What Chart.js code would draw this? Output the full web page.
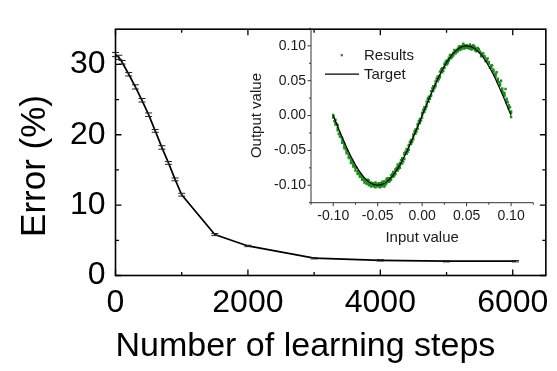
<!DOCTYPE html>
<html><head><meta charset="utf-8">
<script src="https://cdn.jsdelivr.net/npm/chart.js@4.4.0/dist/chart.umd.min.js"></script>
<style>
html,body{margin:0;padding:0;background:#fff;}
#wrap{position:relative;width:557px;height:371px;overflow:hidden;}
#main{position:absolute;left:0;top:0;}
#inset{position:absolute;left:240px;top:15px;}
</style></head><body>
<div id="wrap"><canvas id="main" width="557" height="371"></canvas><canvas id="inset" width="305" height="235"></canvas></div>
<script>
// ---- main chart data ----
const steps = [0, 50, 100, 200, 300, 400, 500, 600, 700, 800, 900, 1000, 1500, 2000, 3000, 4000, 5000, 6040];
const errorPct = [31.4, 31.0, 30.3, 28.6, 26.8, 24.9, 22.85, 20.55, 18.2, 16.0, 13.66, 11.48, 5.82, 4.2, 2.46, 2.16, 2.03, 2.03];
const errorBar = [0.3, 0.3, 0.25, 0.25, 0.3, 0.25, 0.25, 0.2, 0.25, 0.2, 0.2, 0.2, 0.15, 0.1, 0.1, 0.1, 0.1, 0.1];
const xTickLabels = [0, 2000, 4000, 6000];
const xMinorTicks = [1000, 3000, 5000];
const yTickLabels = [0, 10, 20, 30];
const yMinorTicks = [5, 15, 25];

// ---- inset data ----
const insetX = [-0.1,-0.0975,-0.095,-0.0925,-0.09,-0.0875,-0.085,-0.0825,-0.08,-0.0775,-0.075,-0.0725,-0.07,-0.0675,-0.065,-0.0625,-0.06,-0.0575,-0.055,-0.0525,-0.05,-0.0475,-0.045,-0.0425,-0.04,-0.0375,-0.035,-0.0325,-0.03,-0.0275,-0.025,-0.0225,-0.02,-0.0175,-0.015,-0.0125,-0.01,-0.0075,-0.005,-0.0025,0,0.0025,0.005,0.0075,0.01,0.0125,0.015,0.0175,0.02,0.0225,0.025,0.0275,0.03,0.0325,0.035,0.0375,0.04,0.0425,0.045,0.0475,0.05,0.0525,0.055,0.0575,0.06,0.0625,0.065,0.0675,0.07,0.0725,0.075,0.0775,0.08,0.0825,0.085,0.0875,0.09,0.0925,0.095,0.0975,0.1];
const resultsY1 = [0.001,-0.006,-0.018,-0.027,-0.033,-0.044,-0.049,-0.058,-0.063,-0.070,-0.076,-0.080,-0.086,-0.088,-0.093,-0.094,-0.097,-0.096,-0.101,-0.098,-0.102,-0.097,-0.101,-0.094,-0.093,-0.090,-0.086,-0.083,-0.077,-0.073,-0.068,-0.061,-0.056,-0.048,-0.042,-0.035,-0.027,-0.020,-0.012,-0.005,0.004,0.012,0.020,0.027,0.035,0.042,0.049,0.056,0.063,0.068,0.074,0.079,0.083,0.087,0.090,0.091,0.094,0.096,0.097,0.098,0.097,0.099,0.097,0.096,0.095,0.094,0.091,0.088,0.084,0.080,0.075,0.070,0.064,0.058,0.051,0.045,0.037,0.030,0.022,0.013,0.004];
const resultsY2 = [-0.003,-0.011,-0.021,-0.030,-0.039,-0.047,-0.054,-0.061,-0.068,-0.073,-0.079,-0.084,-0.088,-0.092,-0.096,-0.098,-0.100,-0.102,-0.097,-0.103,-0.099,-0.103,-0.098,-0.100,-0.097,-0.095,-0.092,-0.088,-0.084,-0.079,-0.075,-0.069,-0.062,-0.055,-0.049,-0.041,-0.034,-0.026,-0.019,-0.011,-0.003,0.005,0.013,0.020,0.028,0.035,0.042,0.049,0.055,0.062,0.068,0.073,0.078,0.082,0.086,0.089,0.092,0.094,0.096,0.101,0.099,0.096,0.100,0.099,0.097,0.096,0.092,0.089,0.085,0.081,0.077,0.072,0.066,0.060,0.053,0.046,0.039,0.032,0.024,0.015,0.006];
const resultsY3 = [-0.001,-0.013,-0.014,-0.025,-0.036,-0.041,-0.051,-0.055,-0.066,-0.067,-0.074,-0.082,-0.083,-0.090,-0.091,-0.096,-0.093,-0.099,-0.100,-0.096,-0.101,-0.099,-0.095,-0.102,-0.091,-0.093,-0.090,-0.081,-0.080,-0.070,-0.072,-0.064,-0.054,-0.052,-0.044,-0.037,-0.030,-0.022,-0.015,-0.007,0.001,0.009,0.016,0.025,0.030,0.039,0.045,0.053,0.058,0.066,0.070,0.077,0.080,0.086,0.088,0.093,0.096,0.099,0.100,0.096,0.101,0.098,0.095,0.101,0.093,0.097,0.090,0.086,0.084,0.078,0.075,0.068,0.063,0.056,0.049,0.043,0.034,0.028,0.019,0.010,-0.002];
const insetXh = [-0.09875,-0.09625,-0.09375,-0.09125,-0.08875,-0.08625,-0.08375,-0.08125,-0.07875,-0.07625,-0.07375,-0.07125,-0.06875,-0.06625,-0.06375,-0.06125,-0.05875,-0.05625,-0.05375,-0.05125,-0.04875,-0.04625,-0.04375,-0.04125,-0.03875,-0.03625,-0.03375,-0.03125,-0.02875,-0.02625,-0.02375,-0.02125,-0.01875,-0.01625,-0.01375,-0.01125,-0.00875,-0.00625,-0.00375,-0.00125,0.00125,0.00375,0.00625,0.00875,0.01125,0.01375,0.01625,0.01875,0.02125,0.02375,0.02625,0.02875,0.03125,0.03375,0.03625,0.03875,0.04125,0.04375,0.04625,0.04875,0.05125,0.05375,0.05625,0.05875,0.06125,0.06375,0.06625,0.06875,0.07125,0.07375,0.07625,0.07875,0.08125,0.08375,0.08625,0.08875,0.09125,0.09375,0.09625,0.09875];
const resultsY4 = [-0.008,-0.012,-0.026,-0.031,-0.038,-0.047,-0.051,-0.060,-0.064,-0.072,-0.075,-0.083,-0.085,-0.090,-0.094,-0.092,-0.099,-0.097,-0.102,-0.098,-0.097,-0.102,-0.096,-0.099,-0.090,-0.094,-0.084,-0.086,-0.075,-0.076,-0.064,-0.066,-0.052,-0.052,-0.038,-0.038,-0.023,-0.023,-0.008,-0.007,0.008,0.009,0.024,0.024,0.039,0.039,0.053,0.052,0.066,0.064,0.077,0.075,0.087,0.084,0.094,0.091,0.099,0.095,0.103,0.097,0.098,0.102,0.095,0.099,0.092,0.095,0.085,0.089,0.078,0.082,0.069,0.072,0.059,0.062,0.048,0.050,0.033,0.038,0.019,0.012];
const targetX = [-0.1,-0.095,-0.09,-0.085,-0.08,-0.075,-0.07,-0.065,-0.06,-0.055,-0.05,-0.045,-0.04,-0.035,-0.03,-0.025,-0.02,-0.015,-0.01,-0.005,0,0.005,0.01,0.015,0.02,0.025,0.03,0.035,0.04,0.045,0.05,0.055,0.06,0.065,0.07,0.075,0.08,0.085,0.09,0.095,0.1];
const targetY = [0,-0.0156,-0.0309,-0.0454,-0.0588,-0.0707,-0.0809,-0.0891,-0.0951,-0.0988,-0.1,-0.0988,-0.0951,-0.0891,-0.0809,-0.0707,-0.0588,-0.0454,-0.0309,-0.0156,0,0.0156,0.0309,0.0454,0.0588,0.0707,0.0809,0.0891,0.0951,0.0988,0.1,0.0988,0.0951,0.0891,0.0809,0.0707,0.0588,0.0454,0.0309,0.0156,0];
const insetTicks = [-0.10, -0.05, 0.00, 0.05, 0.10];
const insetMinor = [-0.125, -0.075, -0.025, 0.025, 0.075, 0.125];

const FONT = "'Liberation Sans', Arial, sans-serif";

// ---------- main chart ----------
const mainFrame = {
  id: 'mainFrame',
  afterDatasetsDraw(chart) {
    const ctx = chart.ctx, xs = chart.scales.x, ys = chart.scales.y;
    const a = chart.chartArea;
    ctx.save();
    ctx.strokeStyle = '#222'; ctx.lineWidth = 1;
    steps.forEach((s, i) => {
      const px = xs.getPixelForValue(s);
      const yt = ys.getPixelForValue(errorPct[i] + errorBar[i]);
      const yb = ys.getPixelForValue(errorPct[i] - errorBar[i]);
      ctx.beginPath();
      ctx.moveTo(px, yt); ctx.lineTo(px, yb);
      ctx.moveTo(px - 3.5, yt); ctx.lineTo(px + 3.5, yt);
      ctx.moveTo(px - 3.5, yb); ctx.lineTo(px + 3.5, yb);
      ctx.stroke();
    });
    ctx.strokeStyle = '#000'; ctx.lineWidth = 1.6;
    ctx.strokeRect(a.left, a.top, a.right - a.left, a.bottom - a.top);
    ctx.lineWidth = 1.3;
    const tick = (vals, len) => {
      vals.forEach(v => {
        const px = xs.getPixelForValue(v);
        ctx.beginPath();
        ctx.moveTo(px, a.bottom); ctx.lineTo(px, a.bottom - len);
        ctx.moveTo(px, a.top); ctx.lineTo(px, a.top + len);
        ctx.stroke();
      });
    };
    const tickY = (vals, len) => {
      vals.forEach(v => {
        const py = ys.getPixelForValue(v);
        ctx.beginPath();
        ctx.moveTo(a.left, py); ctx.lineTo(a.left + len, py);
        ctx.moveTo(a.right, py); ctx.lineTo(a.right - len, py);
        ctx.stroke();
      });
    };
    tick(xTickLabels, 6); tick(xMinorTicks, 3.5);
    tickY(yTickLabels, 6); tickY(yMinorTicks, 3.5);
    ctx.fillStyle = '#000';
    ctx.font = '35px ' + FONT;
    ctx.translate(35, 166);
    ctx.rotate(-Math.PI / 2);
    ctx.textAlign = 'center'; ctx.textBaseline = 'middle';
    ctx.fillText('Error (%)', 0, 0);
    ctx.restore();
  }
};

new Chart(document.getElementById('main'), {
  type: 'line',
  data: {
    datasets: [{
      label: 'Error',
      data: steps.map((s, i) => ({x: s, y: errorPct[i]})),
      borderColor: '#000', borderWidth: 1.7, pointRadius: 0, tension: 0, fill: false
    }]
  },
  options: {
    responsive: false, animation: false, devicePixelRatio: 1,
    layout: {padding: {top: 9, right: 8.5, left: 0, bottom: 0}},
    plugins: {legend: {display: false}, tooltip: {enabled: false}},
    scales: {
      x: {
        type: 'linear', min: 0, max: 6500,
        afterFit: s => { s.height = 95.5; },
        afterBuildTicks: s => { s.ticks = xTickLabels.map(v => ({value: v})); },
        grid: {display: false, drawTicks: false}, border: {display: false},
        ticks: {font: {family: FONT, size: 32}, color: '#000', padding: 8, maxRotation: 0, autoSkip: false, callback: v => String(v)},
        title: {display: true, text: 'Number of learning steps', align: 'start', color: '#000', font: {family: FONT, size: 34}, padding: {top: 0, bottom: 4}}
      },
      y: {
        type: 'linear', min: 0, max: 35,
        afterFit: s => { s.width = 115.5; },
        afterBuildTicks: s => { s.ticks = yTickLabels.map(v => ({value: v})); },
        grid: {display: false, drawTicks: false}, border: {display: false},
        ticks: {font: {family: FONT, size: 32}, color: '#000', padding: 10, autoSkip: false, callback: v => String(v)}
      }
    }
  },
  plugins: [mainFrame]
});

// ---------- inset chart ----------
const insetFrame = {
  id: 'insetFrame',
  afterDraw(chart) {
    const ctx = chart.ctx, xs = chart.scales.x, ys = chart.scales.y;
    const a = chart.chartArea;
    ctx.save();
    ctx.strokeStyle = '#333'; ctx.lineWidth = 1;
    ctx.beginPath();
    ctx.moveTo(a.left, a.top); ctx.lineTo(a.left, a.bottom); ctx.lineTo(a.right, a.bottom);
    ctx.stroke();
    const tx = (vals, len) => vals.forEach(v => {
      const px = xs.getPixelForValue(v);
      ctx.beginPath(); ctx.moveTo(px, a.bottom); ctx.lineTo(px, a.bottom + len); ctx.stroke();
    });
    const ty = (vals, len) => vals.forEach(v => {
      const py = ys.getPixelForValue(v);
      ctx.beginPath(); ctx.moveTo(a.left, py); ctx.lineTo(a.left - len, py); ctx.stroke();
    });
    tx(insetTicks, 3.5); tx(insetMinor, 2);
    ty(insetTicks, 3.5); ty(insetMinor, 2);
    const ds = chart.data.datasets;
    ctx.font = '15px ' + FONT;
    ctx.textAlign = 'left'; ctx.textBaseline = 'middle';
    ctx.fillStyle = ds[1].pointBackgroundColor;
    ctx.fillRect(a.left + 29.7, a.top + 25.7, 2.2, 2.2);
    ctx.fillStyle = '#1a1a1a';
    ctx.fillText(ds[1].label, a.left + 53, a.top + 27);
    ctx.strokeStyle = '#000'; ctx.lineWidth = 1.2;
    ctx.beginPath(); ctx.moveTo(a.left + 14, a.top + 45.7); ctx.lineTo(a.left + 48, a.top + 45.7); ctx.stroke();
    ctx.fillText(ds[0].label, a.left + 53, a.top + 46);
    ctx.restore();
  }
};

const resultsPts = [];
[resultsY1, resultsY2, resultsY3].forEach(arr => arr.forEach((v, i) => resultsPts.push({x: insetX[i], y: v})));
resultsY4.forEach((v, i) => resultsPts.push({x: insetXh[i], y: v}));
const fmt2 = v => (Math.abs(v) < 1e-9 ? 0 : v).toFixed(2);

new Chart(document.getElementById('inset'), {
  type: 'scatter',
  data: {
    datasets: [
      {label: 'Target', type: 'line', data: targetX.map((x, i) => ({x, y: targetY[i]})),
       borderColor: '#000', borderWidth: 1.2, pointRadius: 0, tension: 0.3, fill: false, order: 0},
      {label: 'Results', data: resultsPts, pointStyle: 'rect', pointRadius: 1.7,
       pointBackgroundColor: '#1a8f1a', pointBorderWidth: 0, borderColor: '#1a8f1a', order: 1}
    ]
  },
  options: {
    responsive: false, animation: false, devicePixelRatio: 1,
    layout: {padding: {top: 10, right: 11.7, left: 0, bottom: 0}},
    plugins: {legend: {display: false}, tooltip: {enabled: false}},
    scales: {
      x: {
        type: 'linear', min: -0.125, max: 0.125,
        afterFit: s => { s.height = 47.3; },
        afterBuildTicks: s => { s.ticks = insetTicks.map(v => ({value: v})); },
        grid: {display: false, drawTicks: false}, border: {display: false},
        ticks: {font: {family: FONT, size: 14}, color: '#1a1a1a', padding: 5, maxRotation: 0, autoSkip: false, callback: v => fmt2(v)},
        title: {display: true, text: 'Input value', color: '#1a1a1a', font: {family: FONT, size: 15}, padding: {top: 0, bottom: 3}}
      },
      y: {
        type: 'linear', min: -0.125, max: 0.125,
        afterFit: s => { s.width = 71; },
        afterBuildTicks: s => { s.ticks = insetTicks.map(v => ({value: v})); },
        grid: {display: false, drawTicks: false}, border: {display: false},
        ticks: {font: {family: FONT, size: 14}, color: '#1a1a1a', padding: 5, autoSkip: false, callback: v => fmt2(v)},
        title: {display: true, text: 'Output value', color: '#1a1a1a', font: {family: FONT, size: 15}, padding: {top: 8, bottom: 0}}
      }
    }
  },
  plugins: [insetFrame]
});
</script>
</body></html>
